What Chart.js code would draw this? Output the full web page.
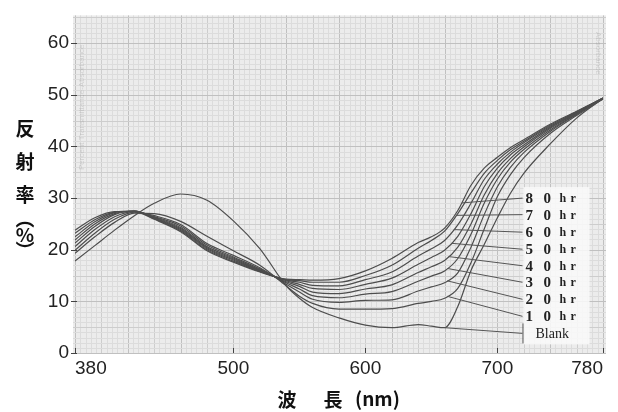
<!DOCTYPE html>
<html>
<head>
<meta charset="utf-8">
<script src="https://cdn.jsdelivr.net/npm/chart.js@4.4.1/dist/chart.umd.min.js"></script>
<style>
  html, body { margin: 0; padding: 0; background: #fff; }
</style>
</head>
<body>
<canvas id="reflect" width="618" height="412"></canvas>
<script>
// wavelength (nm) sample points
const wavelengths = [380, 395, 410, 425, 440, 460, 480, 500, 520, 540, 550, 560, 580, 600, 620, 640, 650, 660, 670, 680, 690, 700, 710, 720, 740, 760, 780];

// reflectance (%)
const blank = [17.8, 20.8, 23.8, 26.6, 29.0, 30.8, 29.6, 25.6, 20.2, 13.0, 10.6, 8.8, 6.8, 5.4, 4.9, 5.5, 5.2, 4.9, 9.0, 16.0, 21.0, 26.2, 31.0, 34.8, 40.5, 45.5, 49.3];
const hr10 = [19.3, 22.5, 25.3, 27.1, 27.0, 25.5, 22.6, 19.8, 17.0, 13.0, 11.0, 9.6, 8.5, 8.5, 8.6, 9.6, 10.0, 10.6, 12.5, 17.5, 24.0, 30.3, 34.6, 37.8, 42.5, 46.0, 49.2];
const hr20 = [19.9, 23.2, 25.9, 27.3, 26.6, 24.9, 21.2, 18.9, 16.5, 13.3, 11.8, 10.4, 9.8, 10.2, 10.3, 12.0, 12.8, 13.6, 15.5, 20.5, 26.8, 32.2, 36.0, 38.8, 42.9, 46.2, 49.3];
const hr30 = [20.6, 23.9, 26.4, 27.4, 26.4, 24.6, 20.9, 18.6, 16.3, 13.6, 12.4, 11.1, 10.7, 11.4, 11.9, 13.9, 14.9, 15.9, 18.3, 23.0, 29.0, 33.7, 37.0, 39.4, 43.2, 46.3, 49.3];
const hr40 = [21.3, 24.5, 26.8, 27.5, 26.3, 24.3, 20.6, 18.4, 16.1, 13.8, 12.9, 11.8, 11.5, 12.4, 13.2, 15.6, 16.7, 17.9, 20.5, 25.0, 30.6, 34.8, 37.7, 39.9, 43.5, 46.4, 49.3];
const hr50 = [21.9, 25.0, 27.0, 27.5, 26.2, 24.1, 20.4, 18.2, 16.0, 14.0, 13.3, 12.5, 12.3, 13.3, 14.5, 17.2, 18.5, 19.9, 22.6, 27.0, 32.2, 35.8, 38.4, 40.3, 43.7, 46.5, 49.4];
const hr60 = [22.5, 25.4, 27.2, 27.5, 26.1, 23.9, 20.2, 18.0, 15.9, 14.1, 13.7, 13.1, 13.0, 14.2, 15.7, 18.8, 20.2, 21.8, 24.8, 29.0, 33.6, 36.6, 38.9, 40.7, 43.9, 46.6, 49.4];
const hr70 = [23.2, 25.8, 27.3, 27.5, 26.0, 23.7, 20.0, 17.8, 15.8, 14.2, 14.0, 13.7, 13.7, 15.0, 17.0, 20.3, 21.8, 23.6, 27.0, 31.0, 34.8, 37.3, 39.4, 41.0, 44.1, 46.7, 49.4];
const hr80 = [23.8, 26.2, 27.4, 27.4, 25.9, 23.5, 19.8, 17.6, 15.7, 14.3, 14.2, 14.1, 14.4, 15.9, 18.3, 21.4, 22.5, 24.2, 27.6, 32.5, 35.8, 37.9, 39.8, 41.3, 44.3, 46.8, 49.4];

const seriesNames = ["Blank", "10hr", "20hr", "30hr", "40hr", "50hr", "60hr", "70hr", "80hr"];
const seriesValues = [blank, hr10, hr20, hr30, hr40, hr50, hr60, hr70, hr80];

// where each leader line leaves its curve (nm) and the level its label sits at (%)
const leaderFrom = [660, 662, 662, 662, 663, 665, 667, 669, 673];
const labelLevel = [3.8, 7.1, 10.4, 13.7, 16.9, 20.1, 23.4, 26.8, 30.0];
const labelAt = 719;

const xTicks = [380, 500, 600, 700, 780];
const yTicks = [0, 10, 20, 30, 40, 50, 60];

function valueAt(vals, w) {
  for (let i = 1; i < wavelengths.length; i++) {
    if (w <= wavelengths[i]) {
      const t = (w - wavelengths[i - 1]) / (wavelengths[i] - wavelengths[i - 1]);
      return vals[i - 1] + t * (vals[i] - vals[i - 1]);
    }
  }
  return vals[vals.length - 1];
}

const graphPaper = {
  id: "graphPaper",
  beforeDraw(chart) {
    const { ctx, chartArea: a, scales: { x, y } } = chart;
    ctx.save();
    ctx.fillStyle = "#fff";
    ctx.fillRect(0, 0, chart.width, chart.height);
    ctx.fillStyle = "#ececec";
    ctx.fillRect(a.left - 2, a.top - 2, a.right - a.left + 5, a.bottom - a.top + 2);
    ctx.lineWidth = 1;
    for (let w = 380; w <= 780; w += 4) {
      const px = Math.round(x.getPixelForValue(w)) + 0.5;
      const k = w - 380;
      ctx.strokeStyle = k % 40 === 0 ? "#c0c0c0" : k % 20 === 0 ? "#cdcdcd" : "#dcdcdc";
      ctx.beginPath();
      ctx.moveTo(px, a.top - 2);
      ctx.lineTo(px, a.bottom);
      ctx.stroke();
    }
    for (let v = 0; v <= 65; v++) {
      const py = Math.round(y.getPixelForValue(v)) + 0.5;
      ctx.strokeStyle = v % 10 === 0 ? "#c0c0c0" : v % 5 === 0 ? "#cdcdcd" : "#dcdcdc";
      ctx.beginPath();
      ctx.moveTo(a.left - 2, py);
      ctx.lineTo(a.right + 3, py);
      ctx.stroke();
    }
    // faint printing on the paper
    ctx.fillStyle = "rgba(120,120,120,0.25)";
    ctx.font = "8px 'Liberation Sans'";
    ctx.translate(a.left + 9, 170);
    ctx.rotate(-Math.PI / 2);
    ctx.fillText("Percent Transmittance-Absorbance", 0, 0);
    ctx.restore();
    ctx.save();
    ctx.fillStyle = "rgba(120,120,120,0.25)";
    ctx.font = "8px 'Liberation Sans'";
    ctx.translate(a.right - 7, 32);
    ctx.rotate(Math.PI / 2);
    ctx.fillText("Absorbance", 0, 0);
    ctx.restore();
  },
  afterDatasetsDraw(chart) {
    const { ctx, chartArea: a, scales: { x, y } } = chart;
    ctx.save();
    // tick marks
    ctx.strokeStyle = "#444";
    ctx.lineWidth = 1;
    yTicks.forEach(v => {
      const py = Math.round(y.getPixelForValue(v)) + 0.5;
      ctx.beginPath();
      ctx.moveTo(a.left - 4, py);
      ctx.lineTo(a.left + 2, py);
      ctx.stroke();
    });
    xTicks.forEach(w => {
      const px = Math.round(x.getPixelForValue(w)) + 0.5;
      ctx.beginPath();
      ctx.moveTo(px, a.bottom);
      ctx.lineTo(px, a.bottom - 5);
      ctx.stroke();
    });

    // label column
    const lx = x.getPixelForValue(labelAt);
    const boxTop = y.getPixelForValue(labelLevel[8]) - 11;
    const boxBot = y.getPixelForValue(labelLevel[0]) + 11;
    ctx.fillStyle = "rgba(250,250,250,0.85)";
    ctx.fillRect(lx + 1, boxTop, 66, boxBot - boxTop);

    // leader lines
    ctx.strokeStyle = "#555";
    ctx.lineWidth = 1;
    seriesValues.forEach((vals, i) => {
      const w = leaderFrom[i];
      ctx.beginPath();
      ctx.moveTo(x.getPixelForValue(w), y.getPixelForValue(valueAt(vals, w)));
      ctx.lineTo(lx, y.getPixelForValue(labelLevel[i]));
      ctx.stroke();
    });
    const by = y.getPixelForValue(labelLevel[0]);
    ctx.beginPath();
    ctx.moveTo(lx + 0.5, by - 10);
    ctx.lineTo(lx + 0.5, by + 10);
    ctx.stroke();

    // labels
    ctx.fillStyle = "#222";
    ctx.textBaseline = "middle";
    ctx.textAlign = "left";
    seriesNames.forEach((name, i) => {
      const ly = y.getPixelForValue(labelLevel[i]);
      if (name === "Blank") {
        ctx.font = "14px 'Liberation Serif'";
        ctx.fillText(name, lx + 13, ly + 1);
        return;
      }
      const offs = [3, 21, 37, 48];
      [...name].forEach((ch, j) => {
        ctx.font = j < 2 ? "bold 15px 'Liberation Serif'" : "bold 12px 'Liberation Serif'";
        ctx.fillText(ch, lx + offs[j], ly + 1);
      });
    });

    // axis titles
    ctx.fillStyle = "#111";
    ctx.font = "bold 19px 'Noto Sans CJK JP'";
    ctx.textAlign = "center";
    ["反", "射", "率"].forEach((ch, i) => ctx.fillText(ch, 25, 129 + i * 33));
    ["︵", "%", "︶"].forEach((ch, i) => ctx.fillText(ch, 25, 219 + i * 16));
    ctx.fillText("波", 287, 400);
    ctx.fillText("長", 333, 400);
    ctx.textAlign = "left";
    ctx.fillText("(nm)", 355, 399);
    ctx.restore();
  }
};

const ctx = document.getElementById("reflect").getContext("2d");
const chart = new Chart(ctx, {
  type: "line",
  data: {
    datasets: seriesValues.map((vals, i) => ({
      label: seriesNames[i],
      data: wavelengths.map((w, j) => ({ x: w, y: vals[j] })),
      borderColor: "#4d4d4d",
      borderWidth: 1.2,
      pointRadius: 0,
      fill: false,
      cubicInterpolationMode: "monotone",
    })),
  },
  options: {
    responsive: false,
    animation: false,
    devicePixelRatio: 1,
    layout: { padding: { top: 10, right: 15, bottom: 0, left: 0 } },
    plugins: { legend: { display: false }, tooltip: { enabled: false } },
    scales: {
      x: {
        type: "linear",
        min: 380,
        max: 780,
        grid: { display: false, drawTicks: false },
        border: { display: false },
        afterBuildTicks: s => { s.ticks = xTicks.map(v => ({ value: v })); },
        afterFit: s => { s.height = 59; },
        ticks: {
          align: "inner",
          padding: 4,
          color: "#222",
          font: { family: "'Liberation Sans', Arial", size: 19 },
          maxRotation: 0,
        },
      },
      y: {
        min: 0,
        max: 65,
        grid: { display: false, drawTicks: false },
        border: { display: false },
        afterFit: s => { s.width = 75; },
        ticks: {
          stepSize: 10,
          includeBounds: false,
          padding: 6,
          color: "#222",
          font: { family: "'Liberation Sans', Arial", size: 19 },
        },
      },
    },
  },
  plugins: [graphPaper],
});
</script>
</body>
</html>
